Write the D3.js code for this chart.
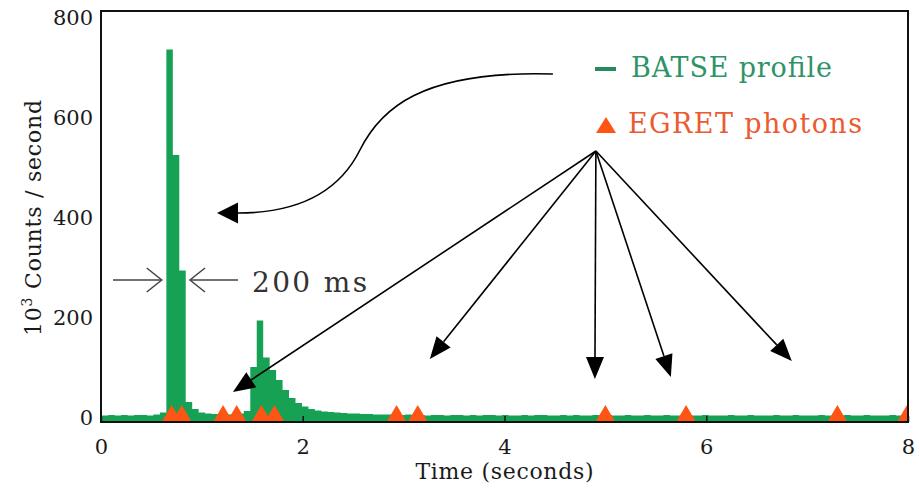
<!DOCTYPE html>
<html>
<head>
<meta charset="utf-8">
<script src="https://cdn.jsdelivr.net/npm/d3@7"></script>
<style>
  html, body { margin: 0; padding: 0; background: #fff; }
  svg { display: block; }
  text { font-family: "DejaVu Serif", "Liberation Serif", serif; }
</style>
</head>
<body>
<svg id="chart" width="920" height="489"></svg>
<script>
// BATSE light curve: 64 ms bins, in 10^3 counts per second
const binWidth = 0.064;
const binOffset = 0.008;
const batseCounts = [
  5, 6, 5, 6, 5, 6, 6, 5, 7, 11,
  737, 526, 295, 32, 18, 11, 9, 8, 7, 7,
  8, 9, 14, 102, 195, 121, 96, 76, 56, 40,
  30, 23, 18, 15, 13, 12, 11, 10, 9, 9,
  8, 8, 7, 7,
  7, 6, 6, 7, 6, 6, 5, 6, 6, 5,
  6, 6, 5, 6, 5, 6, 6, 5, 6, 5,
  5, 6, 5, 6, 6, 5, 5, 6, 5, 6,
  5, 5, 6, 5, 6, 5, 5, 6, 5, 5,
  6, 5, 5, 6, 5, 5, 6, 5, 5, 6,
  5, 5, 5, 6, 5, 5, 6, 5, 5, 5,
  6, 5, 5, 6, 5, 5, 5, 6, 5, 5,
  5, 6, 5, 5, 6, 5, 5, 5, 6, 5,
  5
];

// Arrival times (s) of the EGRET high-energy photons
const egretPhotonTimes = [0.70, 0.80, 1.21, 1.345, 1.59, 1.72, 2.93, 3.14, 5.00, 5.80, 7.30, 7.99];

const xTickValues = [0, 2, 4, 6, 8];
const yTickValues = [0, 200, 400, 600, 800];
const legendLabels = ["BATSE profile", "EGRET photons"];

// Annotation arrows, in data units (time s, 10^3 counts/s)
const fanOrigin = { t: 4.906, v: 534 };
const fanTips = [
  { t: 1.308, v: 52 },
  { t: 3.260, v: 118 },
  { t: 4.896, v: 78 },
  { t: 5.649, v: 82 },
  { t: 6.848, v: 114 }
];
const curveArrow = [
  { t: 4.480, v: 688 },   // start
  { t: 3.160, v: 696 },   // control
  { t: 2.765, v: 616 },   // control
  { t: 2.567, v: 536 },   // mid
  { t: 2.369, v: 456 },   // reflected control
  { t: 1.972, v: 410 },   // control
  { t: 1.358, v: 410 },   // end of shaft
  { t: 1.150, v: 410 }    // arrow tip
];
const widthMarker = { left: [0.119, 0.602], right: [0.882, 1.358], v: 276, label: "200 ms", labelT: 1.497, labelV: 252 };

const svg = d3.select("#chart");
const frame = { left: 101, right: 908, top: 11, bottom: 422 };

const x = d3.scaleLinear().domain([0, 8]).range([frame.left, frame.right]);
const y = d3.scaleLinear().domain([-8, 814]).range([frame.bottom, frame.top]);

const green = "#17a154";
const orange = "#ff5514";
const ink = "#1a1a1a";

svg.append("rect").attr("width", 920).attr("height", 489).attr("fill", "#fff");

svg.append("defs").append("clipPath").attr("id", "plot-clip")
  .append("rect")
  .attr("x", frame.left).attr("y", frame.top)
  .attr("width", frame.right - frame.left).attr("height", frame.bottom - frame.top);

const plot = svg.append("g").attr("clip-path", "url(#plot-clip)");

// Histogram of the BATSE count rate
const bins = batseCounts.map((v, i) => ({ t: i === 0 ? 0 : binOffset + i * binWidth, v }));
bins.push({ t: binOffset + batseCounts.length * binWidth, v: batseCounts[batseCounts.length - 1] });

const area = d3.area()
  .x(d => x(d.t))
  .y0(y.range()[0])
  .y1(d => y(d.v))
  .curve(d3.curveStepAfter);

plot.append("path").datum(bins).attr("d", area).attr("fill", green);

// EGRET photons as triangles sitting on the axis
const triHalf = 10, triHeight = 17;
plot.selectAll("path.photon").data(egretPhotonTimes).join("path")
  .attr("class", "photon")
  .attr("fill", orange)
  .attr("d", t => {
    const cx = x(t), base = y.range()[0];
    const p = d3.path();
    p.moveTo(cx - triHalf, base);
    p.lineTo(cx, base - triHeight);
    p.lineTo(cx + triHalf, base);
    p.closePath();
    return p.toString();
  });

// Axes
const xAxis = d3.axisBottom(x).tickValues(xTickValues).tickFormat(d3.format("d"))
  .tickSizeInner(-6).tickSizeOuter(0).tickPadding(17);
const gx = svg.append("g").attr("transform", `translate(0,${frame.bottom})`).call(xAxis);
gx.select(".domain").remove();
gx.selectAll(".tick line").attr("stroke", "#111").attr("stroke-width", 1.5);
gx.selectAll(".tick text").attr("font-size", 21).attr("fill", ink)
  .attr("font-family", "DejaVu Serif, serif");

const yAxis = d3.axisLeft(y).tickValues(yTickValues).tickFormat(d3.format("d"))
  .tickSizeInner(0).tickSizeOuter(0).tickPadding(8);
const gy = svg.append("g").attr("transform", `translate(${frame.left},0)`).call(yAxis);
gy.select(".domain").remove();
gy.selectAll(".tick line").remove();
gy.selectAll(".tick text").attr("font-size", 21).attr("fill", ink)
  .attr("font-family", "DejaVu Serif, serif");

// Plot frame
svg.append("rect")
  .attr("x", frame.left).attr("y", frame.top)
  .attr("width", frame.right - frame.left).attr("height", frame.bottom - frame.top)
  .attr("fill", "none").attr("stroke", "#111").attr("stroke-width", 2);

// Axis titles
svg.append("text")
  .attr("x", (frame.left + frame.right) / 2).attr("y", 479)
  .attr("text-anchor", "middle").attr("font-size", 22).attr("fill", ink)
  .attr("textLength", 178).attr("lengthAdjust", "spacing")
  .text("Time (seconds)");

const yTitle = svg.append("text")
  .attr("transform", "translate(41,218) rotate(-90)")
  .attr("text-anchor", "middle").attr("font-size", 22).attr("fill", ink)
  .attr("textLength", 236).attr("lengthAdjust", "spacing");
yTitle.append("tspan").text("10");
yTitle.append("tspan").attr("font-size", 14).attr("dy", -9).text("3");
yTitle.append("tspan").attr("dy", 9).text(" Counts / second");

// Legend
const legend = svg.append("g");
legend.append("line")
  .attr("x1", 595).attr("x2", 616).attr("y1", 69).attr("y2", 69)
  .attr("stroke", "#258a5e").attr("stroke-width", 4);
legend.append("text")
  .attr("x", 631).attr("y", 77).attr("font-size", 27).attr("fill", "#2e9468")
  .attr("textLength", 201).attr("lengthAdjust", "spacing")
  .text(legendLabels[0]);
legend.append("path")
  .attr("d", "M596,133 L606,117 L616,133 Z").attr("fill", orange);
legend.append("text")
  .attr("x", 628).attr("y", 133).attr("font-size", 27).attr("fill", "#ec5a30")
  .attr("textLength", 234).attr("lengthAdjust", "spacing")
  .text(legendLabels[1]);

// Filled arrowhead helper: returns the point where the shaft should stop
function arrowHead(g, tip, from, len, half) {
  const dx = tip[0] - from[0], dy = tip[1] - from[1];
  const d = Math.hypot(dx, dy), ux = dx / d, uy = dy / d;
  const bx = tip[0] - ux * len, by = tip[1] - uy * len;
  const p = d3.path();
  p.moveTo(tip[0], tip[1]);
  p.lineTo(bx - uy * half, by + ux * half);
  p.lineTo(bx + uy * half, by - ux * half);
  p.closePath();
  g.append("path").attr("d", p.toString()).attr("fill", "#000");
  return [bx, by];
}

const ann = svg.append("g");

// Fan of arrows from the legend to the photon triangles
const o = [x(fanOrigin.t), y(fanOrigin.v)];
fanTips.forEach(tp => {
  const tip = [x(tp.t), y(tp.v)];
  const base = arrowHead(ann, tip, o, 22, 9);
  ann.append("line")
    .attr("x1", o[0]).attr("y1", o[1]).attr("x2", base[0]).attr("y2", base[1])
    .attr("stroke", "#000").attr("stroke-width", 1.6);
});

// Curved arrow from the legend to the BATSE spike
const c = curveArrow.map(p => [x(p.t), y(p.v)]);
const cp = d3.path();
cp.moveTo(c[0][0], c[0][1]);
cp.bezierCurveTo(c[1][0], c[1][1], c[2][0], c[2][1], c[3][0], c[3][1]);
cp.bezierCurveTo(c[4][0], c[4][1], c[5][0], c[5][1], c[6][0], c[6][1]);
ann.append("path").attr("d", cp.toString())
  .attr("fill", "none").attr("stroke", "#000").attr("stroke-width", 1.6);
arrowHead(ann, c[7], c[6], 21, 10.5);

// 200 ms width marker
const wm = svg.append("g").attr("stroke", "#444").attr("stroke-width", 1.5).attr("fill", "none");
const wy = y(widthMarker.v);
const lTail = x(widthMarker.left[0]), lTip = x(widthMarker.left[1]);
const rTip = x(widthMarker.right[0]), rTail = x(widthMarker.right[1]);
wm.append("line").attr("x1", lTail).attr("x2", lTip).attr("y1", wy).attr("y2", wy);
wm.append("path").attr("d", `M${lTip - 15},${wy - 12} L${lTip},${wy} L${lTip - 15},${wy + 12}`);
wm.append("line").attr("x1", rTip).attr("x2", rTail).attr("y1", wy).attr("y2", wy);
wm.append("path").attr("d", `M${rTip + 15},${wy - 12} L${rTip},${wy} L${rTip + 15},${wy + 12}`);

svg.append("text")
  .attr("x", x(widthMarker.labelT)).attr("y", y(widthMarker.labelV))
  .attr("font-size", 28).attr("fill", "#333")
  .attr("textLength", 115).attr("lengthAdjust", "spacing")
  .text(widthMarker.label);
</script>
</body>
</html>
